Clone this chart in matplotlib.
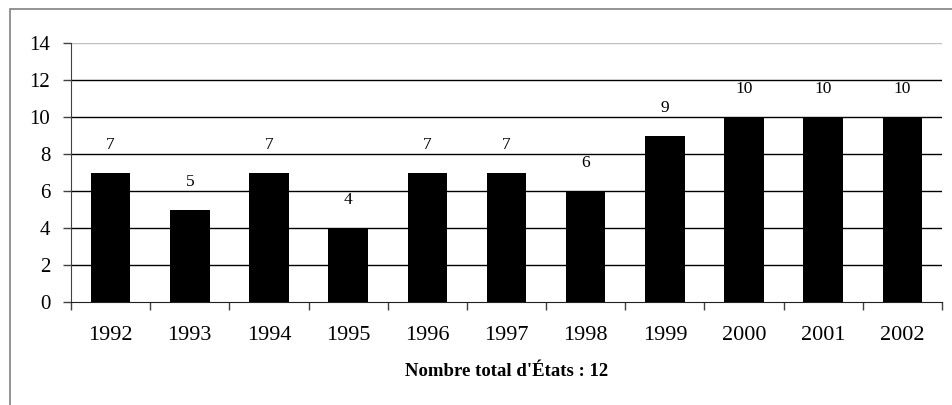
import matplotlib
matplotlib.use("Agg")
import matplotlib.pyplot as plt
from matplotlib.patches import Rectangle

years = ["1992", "1993", "1994", "1995", "1996", "1997", "1998", "1999", "2000", "2001", "2002"]
counts = [7, 5, 7, 4, 7, 7, 6, 9, 10, 10, 10]
y_ticks = [0, 2, 4, 6, 8, 10, 12, 14]
xlabel = "Nombre total d'États : 12"

plt.rcParams['font.family'] = ['Liberation Serif', 'DejaVu Serif']

W, H = 952, 405
fig = plt.figure(figsize=(W / 100, H / 100), dpi=100)
fig.patch.set_facecolor("white")

# outer chart frame (runs off the right and bottom edges)
fig.add_artist(Rectangle((10 / W, -0.05), (W + 20 - 10) / W, (H - 9) / H + 0.05,
                         transform=fig.transFigure, fill=False,
                         edgecolor="#808080", linewidth=1.2))

ax = fig.add_axes([71 / W, 1 - 302 / H, (942 - 71) / W, (302 - 43) / H])

x = list(range(len(years)))
ax.bar(x, counts, width=0.5, color="black", zorder=3)

ax.set_xlim(-0.5, len(years) - 0.5)
ax.set_ylim(0, 14)
ax.set_yticks(y_ticks)
ax.set_yticklabels([str(v) for v in y_ticks], fontsize=15)

# gridlines
for v in y_ticks[1:]:
    ax.axhline(v, color="#c0c0c0" if v == 14 else "black", linewidth=1.0, zorder=1)

# category ticks sit on the boundaries, labels in the centres
ax.set_xticks([i - 0.5 for i in range(len(years) + 1)], minor=False)
ax.set_xticklabels([""] * (len(years) + 1))
ax.set_xticks(x, minor=True)
ax.set_xticklabels(years, minor=True, fontsize=16)
ax.tick_params(axis="x", which="major", length=6, width=1, color="#404040", direction="out")
ax.tick_params(axis="x", which="minor", length=0, pad=17)
ax.tick_params(axis="y", length=6, width=1, color="#404040", direction="out", pad=9)

for s in ["top", "right"]:
    ax.spines[s].set_visible(False)
ax.spines["left"].set_color("#404040")
ax.spines["bottom"].set_color("#202020")

for xi, c in zip(x, counts):
    ax.annotate(str(c), (xi, c), xytext=(0, 20), textcoords="offset points",
                ha="center", va="center", fontsize=12.5)

ax.set_xlabel(xlabel, fontsize=13.5, fontweight="bold", labelpad=13)

fig.savefig("out.png", dpi=100)
